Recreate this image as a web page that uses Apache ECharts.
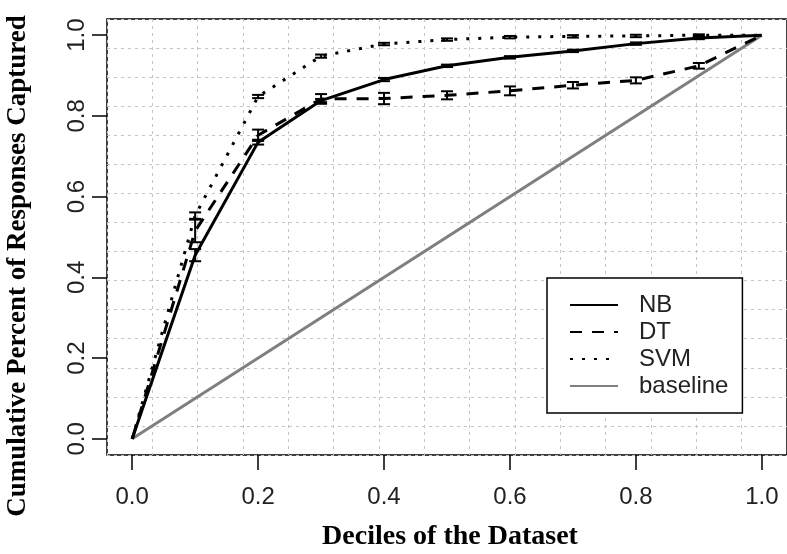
<!DOCTYPE html>
<html>
<head>
<meta charset="utf-8">
<script src="https://cdn.jsdelivr.net/npm/echarts@6/dist/echarts.min.js"></script>
<style>
  html, body { margin: 0; padding: 0; background: #fff; }
  #chart { width: 787px; height: 554px; }
</style>
</head>
<body>
<div id="chart"></div>
<script>
(function(){

  // deciles of the dataset
  var deciles = [0, 0.1, 0.2, 0.3, 0.4, 0.5, 0.6, 0.7, 0.8, 0.9, 1.0];
  var nb      = [0, 0.455, 0.735, 0.838, 0.890, 0.924, 0.945, 0.961, 0.979, 0.993, 1.0];
  var nbErr   = [0, 0.015, 0.006, 0.004, 0.004, 0.003, 0.003, 0.003, 0.003, 0.003, 0];
  var dt      = [0, 0.515, 0.752, 0.842, 0.843, 0.851, 0.862, 0.876, 0.888, 0.924, 1.0];
  var dtErr   = [0, 0.028, 0.014, 0.012, 0.014, 0.010, 0.011, 0.008, 0.0075, 0.007, 0];
  var svm     = [0, 0.553, 0.848, 0.948, 0.978, 0.989, 0.995, 0.997, 0.998, 1.0, 1.0];
  var svmErr  = [0, 0.008, 0.004, 0.004, 0.003, 0.003, 0.003, 0.003, 0.003, 0.002, 0];
  var baseX   = [0, 1];
  var baseY   = [0, 1];
  var tickVals = [0, 0.2, 0.4, 0.6, 0.8, 1.0];

  function pairs(xs, ys){ return xs.map(function(x, i){ return [x, ys[i]]; }); }
  function triples(xs, ys, es){ return xs.map(function(x, i){ return [x, ys[i], es[i]]; }); }

  function errBar(params, api){
    var x = api.value(0), y = api.value(1), e = api.value(2);
    if (!e) return null;
    var top = api.coord([x, y + e]);
    var bot = api.coord([x, y - e]);
    var w = 6;
    var st = { stroke: '#000', lineWidth: 2 };
    return {
      type: 'group',
      children: [
        { type: 'line', shape: { x1: top[0], y1: top[1], x2: bot[0], y2: bot[1] }, style: st },
        { type: 'line', shape: { x1: top[0]-w, y1: top[1], x2: top[0]+w, y2: top[1] }, style: st },
        { type: 'line', shape: { x1: bot[0]-w, y1: bot[1], x2: bot[0]+w, y2: bot[1] }, style: st }
      ]
    };
  }

  var labelFont = { fontFamily: 'Liberation Sans', fontSize: 24, color: '#222' };
  var gridLine = { show: true, lineStyle: { color: '#c4c4c4', width: 1, type: [3, 4] } };

  var chartDom = document.getElementById('chart');
  var myChart = echarts.init(chartDom, null, { renderer: 'canvas' });
  var option = {
    animation: false,
    backgroundColor: '#fff',
    grid: {
      left: 107, top: 19, width: 688, height: 436,
      show: true, borderColor: '#000', borderWidth: 1.5, backgroundColor: 'transparent'
    },
    xAxis: [
      {
        type: 'value', min: -0.04, max: 1.04,
        axisLine: { show: false, onZero: false },
        splitLine: { show: false },
        axisTick: { show: true, customValues: tickVals, length: 15, lineStyle: { color: '#000', width: 1.5 } },
        axisLabel: Object.assign({ customValues: tickVals, margin: 30, formatter: function(v){ return v.toFixed(1); } }, labelFont)
      },
      {
        type: 'value', min: 0, max: 1.08, interval: 0.072, position: 'top',
        axisLine: { show: false, onZero: false }, axisTick: { show: false }, axisLabel: { show: false },
        splitLine: gridLine
      }
    ],
    yAxis: [
      {
        type: 'value', min: -0.04, max: 1.04,
        axisLine: { show: false, onZero: false },
        splitLine: { show: false },
        axisTick: { show: true, customValues: tickVals, length: 15, lineStyle: { color: '#000', width: 1.5 } },
        axisLabel: Object.assign({ customValues: tickVals, rotate: 90, margin: 18, formatter: function(v){ return v.toFixed(1); } }, labelFont)
      },
      {
        type: 'value', min: 0, max: 1.08, interval: 0.072, position: 'right',
        axisLine: { show: false, onZero: false }, axisTick: { show: false }, axisLabel: { show: false },
        splitLine: gridLine
      }
    ],
    legend: {
      orient: 'vertical',
      left: 547, top: 278,
      padding: [15, 14, 15, 22],
      itemWidth: 48, itemHeight: 24, itemGap: 3,
      backgroundColor: '#fff',
      borderColor: '#000', borderWidth: 1.5, borderRadius: 0,
      itemStyle: { opacity: 0 },
      textStyle: { fontFamily: 'Liberation Sans', fontSize: 24, color: '#222', padding: [0, 0, 0, 16] },
      data: ['NB', 'DT', 'SVM', 'baseline']
    },
    graphic: [
      {
        type: 'text', position: [450, 537],
        style: { text: 'Deciles of the Dataset', font: 'bold 28px "Liberation Serif"', fill: '#000',
                 textAlign: 'center', textVerticalAlign: 'middle' }
      },
      {
        type: 'text', position: [18, 266], rotation: Math.PI / 2,
        style: { text: 'Cumulative Percent of Responses Captured', font: 'bold 27px "Liberation Serif"', fill: '#000',
                 textAlign: 'center', textVerticalAlign: 'middle' }
      }
    ],
    series: [
      {
        name: 'NB', type: 'line', data: pairs(deciles, nb), symbol: 'none',
        lineStyle: { color: '#000', width: 3 }, itemStyle: { color: '#000' }, z: 3
      },
      {
        name: 'DT', type: 'line', data: pairs(deciles, dt), symbol: 'none',
        lineStyle: { color: '#000', width: 3, type: [12, 10] }, itemStyle: { color: '#000' }, z: 3
      },
      {
        name: 'SVM', type: 'line', data: pairs(deciles, svm), symbol: 'none',
        lineStyle: { color: '#000', width: 3, type: [3, 9] }, itemStyle: { color: '#000' }, z: 3
      },
      {
        name: 'baseline', type: 'line', data: pairs(baseX, baseY), symbol: 'none',
        lineStyle: { color: '#7f7f7f', width: 3 }, itemStyle: { color: '#7f7f7f' }, z: 2
      },
      { name: 'NB err', type: 'custom', renderItem: errBar, data: triples(deciles, nb, nbErr), z: 4 },
      { name: 'DT err', type: 'custom', renderItem: errBar, data: triples(deciles, dt, dtErr), z: 4 },
      { name: 'SVM err', type: 'custom', renderItem: errBar, data: triples(deciles, svm, svmErr), z: 4 }
    ]
  };

  option && myChart.setOption(option);

})();
</script>
</body>
</html>
